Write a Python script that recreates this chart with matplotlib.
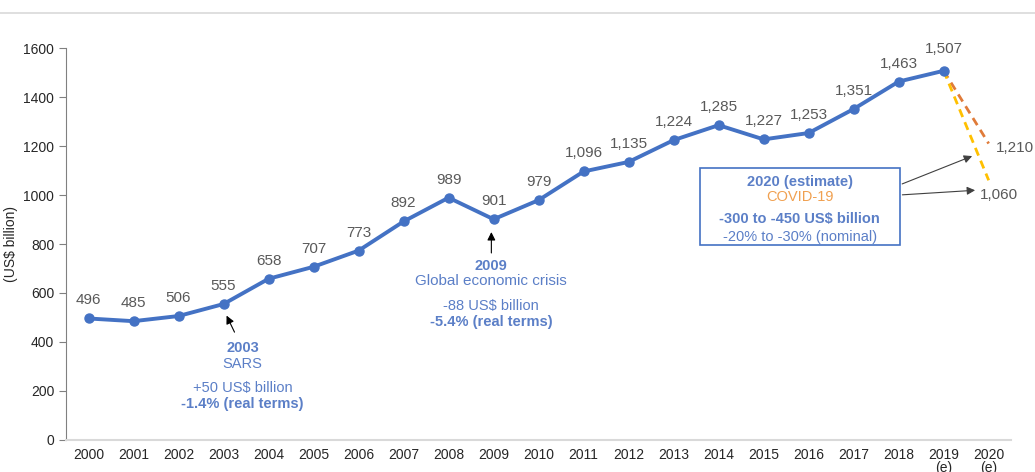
import matplotlib.pyplot as plt

plt.rcParams['font.family'] = ['Liberation Sans', 'DejaVu Sans']

years = ['2000', '2001', '2002', '2003', '2004', '2005', '2006', '2007', '2008', '2009',
         '2010', '2011', '2012', '2013', '2014', '2015', '2016', '2017', '2018', '2019\n(e)',
         '2020\n(e)']
receipts = [496, 485, 506, 555, 658, 707, 773, 892, 989, 901,
            979, 1096, 1135, 1224, 1285, 1227, 1253, 1351, 1463, 1507]
proj_high = 1210
proj_low = 1060

blue = '#4472C4'
txt_blue = '#5B7FC7'
gray = '#595959'
fs_note = 10.5

fig = plt.figure(figsize=(10.35, 4.72), dpi=100)
ax = fig.add_axes([0.0638, 0.0678, 0.9132, 0.8305])

x = list(range(len(receipts)))
ax.plot(x, receipts, color=blue, lw=2.8, marker='o', ms=6.5, zorder=3)

# 2020 projections
ax.plot([19, 20], [receipts[-1], proj_high], color='#E07B39', lw=2, ls=(0, (3, 2)), zorder=2)
ax.plot([19, 20], [receipts[-1], proj_low], color='#FFC000', lw=2, ls=(0, (3, 2)), zorder=2)

for i, v in enumerate(receipts):
    dy = 45
    if i == 19:
        dy = 62
    ax.text(i, v + dy, f'{v:,}', ha='center', va='bottom', fontsize=11, color=gray)
ax.text(20.15, 1192, f'{proj_high:,}', ha='left', va='center', fontsize=11, color=gray)
ax.text(19.8, 1000, f'{proj_low:,}', ha='left', va='center', fontsize=11, color=gray)

# SARS
ax.annotate('', xy=(3.04, 518), xytext=(3.27, 430),
            arrowprops=dict(arrowstyle='-|>', color='black', lw=0.8, mutation_scale=12))
ax.text(3.42, 375, '2003', ha='center', va='center', fontsize=fs_note, color=txt_blue, fontweight='bold')
ax.text(3.42, 312, 'SARS', ha='center', va='center', fontsize=fs_note, color=txt_blue)
ax.text(3.42, 212, '+50 US$ billion', ha='center', va='center', fontsize=fs_note, color=txt_blue)
ax.text(3.42, 148, '-1.4% (real terms)', ha='center', va='center', fontsize=fs_note, color=txt_blue, fontweight='bold')

# 2009 crisis
ax.annotate('', xy=(8.95, 860), xytext=(8.95, 752),
            arrowprops=dict(arrowstyle='-|>', color='black', lw=0.8, mutation_scale=12))
ax.text(8.95, 710, '2009', ha='center', va='center', fontsize=fs_note, color=txt_blue, fontweight='bold')
ax.text(8.95, 649, 'Global economic crisis', ha='center', va='center', fontsize=11, color=txt_blue)
ax.text(8.95, 547, '-88 US$ billion', ha='center', va='center', fontsize=fs_note, color=txt_blue)
ax.text(8.95, 482, '-5.4% (real terms)', ha='center', va='center', fontsize=fs_note, color=txt_blue, fontweight='bold')

# COVID box
rect = plt.Rectangle((13.58, 796), 4.44, 314, fill=False, ec=blue, lw=1.2, zorder=4)
ax.add_patch(rect)
ax.text(15.8, 1053, '2020 (estimate)', ha='center', va='center', fontsize=fs_note, color=txt_blue, fontweight='bold')
ax.text(15.8, 992, 'COVID-19', ha='center', va='center', fontsize=fs_note, color='#F0A050')
ax.text(15.8, 902, '-300 to -450 US$ billion', ha='center', va='center', fontsize=fs_note, color=txt_blue, fontweight='bold')
ax.text(15.8, 829, '-20% to -30% (nominal)', ha='center', va='center', fontsize=fs_note, color=txt_blue)
ax.annotate('', xy=(19.69, 1163), xytext=(18.02, 1041),
            arrowprops=dict(arrowstyle='-|>', color='#404040', lw=0.8, mutation_scale=12))
ax.annotate('', xy=(19.76, 1020), xytext=(18.02, 1000),
            arrowprops=dict(arrowstyle='-|>', color='#404040', lw=0.8, mutation_scale=12))

ax.set_xlim(-0.5, 20.5)
ax.set_ylim(0, 1600)
ax.set_xticks(range(len(years)))
ax.set_xticklabels(years, fontsize=10, color='#262626', va='top', linespacing=0.9)
ax.set_yticks(range(0, 1601, 200))
ax.tick_params(axis='y', labelsize=10, labelcolor='#262626', color='#808080', length=5)
ax.tick_params(axis='x', length=0, pad=6)
ax.set_ylabel('(US$ billion)', fontsize=10, color='#262626', labelpad=4)
for s in ['top', 'right']:
    ax.spines[s].set_visible(False)
ax.spines['left'].set_color('#808080')
ax.spines['bottom'].set_color('#D9D9D9')
ax.spines['bottom'].set_linewidth(1.5)

# border line at top of screenshot
fig.add_artist(plt.Line2D([0, 1], [0.972, 0.972], color='#D9D9D9', lw=1.2, transform=fig.transFigure))

fig.savefig('out.png', dpi=100)
